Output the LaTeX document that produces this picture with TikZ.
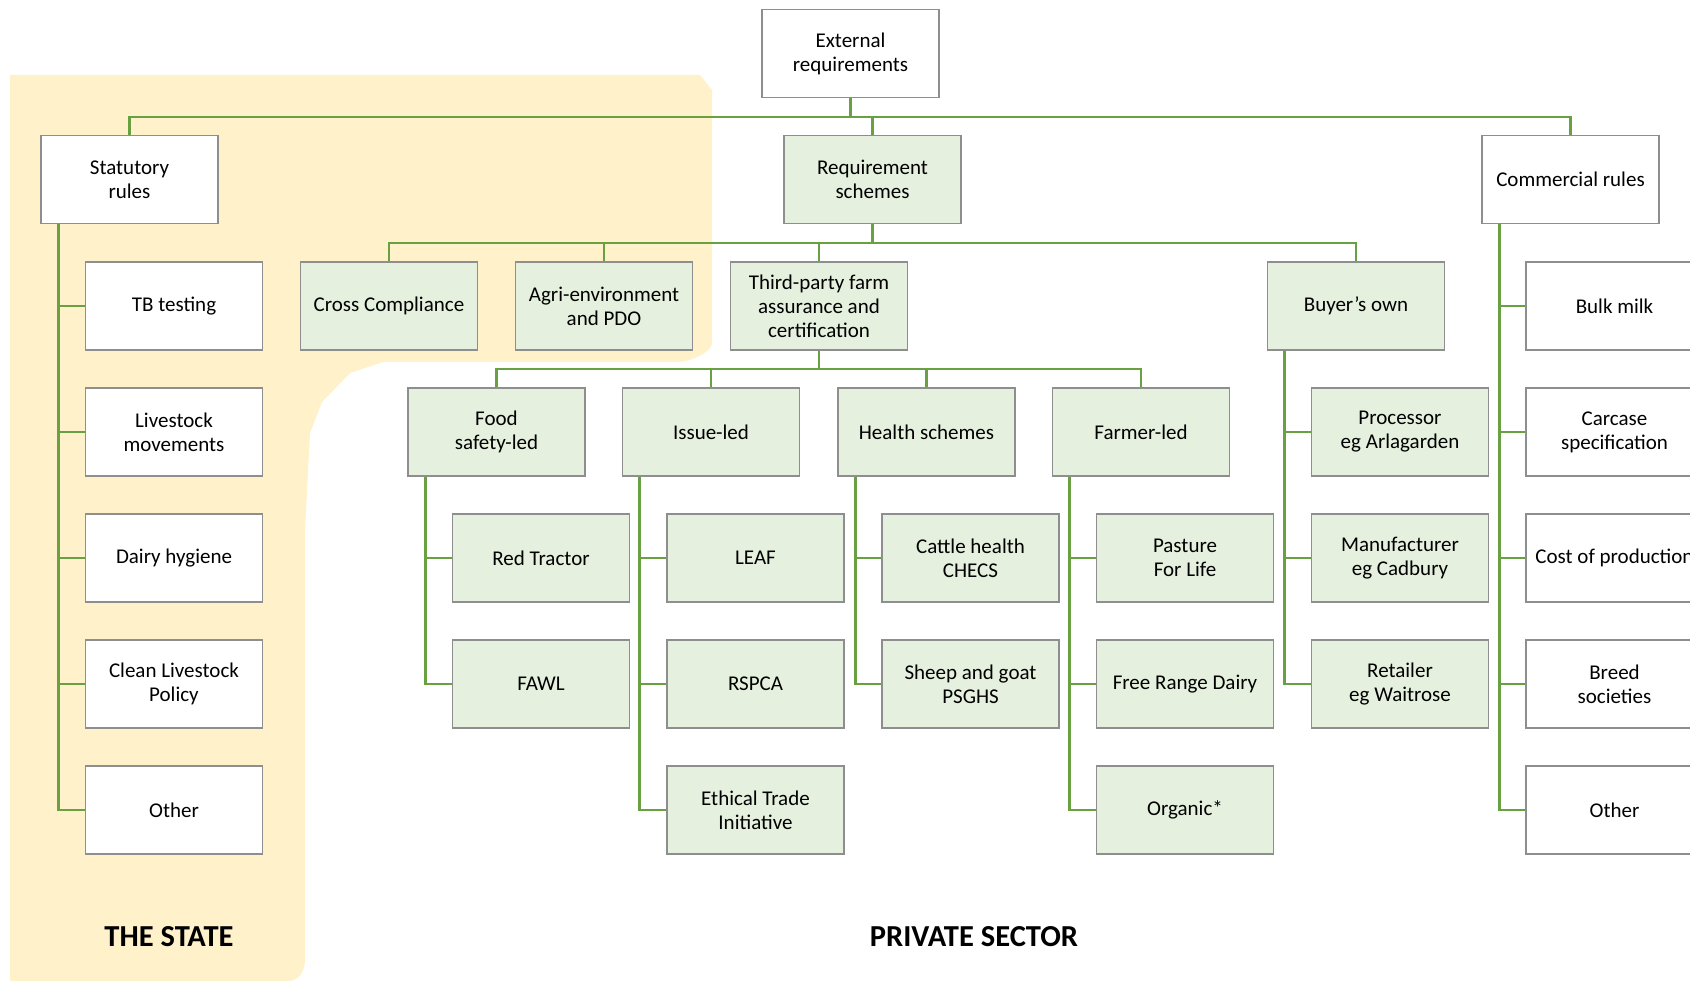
\documentclass[tikz,border=0pt]{standalone}
\usepackage{fontspec}
\setmainfont{Carlito}
\definecolor{stateband}{HTML}{FFF1CA}
\definecolor{schemefill}{HTML}{E5F0DE}
\definecolor{linkgreen}{HTML}{69A142}
\definecolor{boxgray}{HTML}{8E8E8E}
\newcommand{\apos}{\char"0027}
\tikzset{
  box/.style={draw=boxgray, line width=1.6pt, fill=white, minimum width=177pt,
    minimum height=88pt, inner sep=2pt, align=center,
    font=\fontsize{21}{24}\selectfont},
  scheme/.style={box, fill=schemefill},
  conn/.style={draw=linkgreen, line width=2.9pt},
  sector/.style={font=\fontsize{30.5}{35}\selectfont\bfseries}
}
\begin{document}
\begin{tikzpicture}[x=1pt,y=-1pt]
\useasboundingbox (0,0) rectangle (1690,981);
\clip (0,0) rectangle (1690,981);
\fill[white] (0,0) rectangle (1690,981);

% band behind the state-run part
\fill[stateband] (10,75) -- (700,75) -- (712,90) -- (712,343)
  .. controls (712,352) and (690,362) .. (677,362) -- (383,362)
  -- (350,373) -- (322,402) -- (310,433) -- (305,530) -- (305,960)
  .. controls (305,972) and (298,981) .. (288,981) -- (10,981) -- cycle;

% top level
\node[box] (ext) at (850.5,53.5) {External\\requirements};
\node[box] (stat) at (129.5,179.5) {Statutory\\rules};
\node[scheme] (req) at (872.5,179.5) {Requirement\\schemes};
\node[box] (comm) at (1570.5,179.5) {Commercial rules};

% requirement schemes
\node[scheme] (cc) at (389,306) {Cross Compliance};
\node[scheme] (agri) at (604,306) {Agri-environment\\and PDO};
\node[scheme] (tp) at (819,306) {Third-party farm\\assurance and\\certification};
\node[scheme] (buy) at (1356,306) {Buyer\apos s own};

% third-party groups
\node[scheme] (food) at (496.5,432) {Food\\safety-led};
\node[scheme] (issue) at (711,432) {Issue-led};
\node[scheme] (health) at (926.5,432) {Health schemes};
\node[scheme] (farm) at (1141,432) {Farmer-led};

% statutory rules
\node[box] (s1) at (174,306) {TB testing};
\node[box] (s2) at (174,432) {Livestock\\movements};
\node[box] (s3) at (174,558) {Dairy hygiene};
\node[box] (s4) at (174,684) {Clean Livestock\\Policy};
\node[box] (s5) at (174,810) {Other};

% food safety-led
\node[scheme] (f1) at (541,558) {Red Tractor};
\node[scheme] (f2) at (541,684) {FAWL};

% issue-led
\node[scheme] (i1) at (755.5,558) {LEAF};
\node[scheme] (i2) at (755.5,684) {RSPCA};
\node[scheme] (i3) at (755.5,810) {Ethical Trade\\Initiative};

% health schemes
\node[scheme] (h1) at (970.5,558) {Cattle health\\CHECS};
\node[scheme] (h2) at (970.5,684) {Sheep and goat\\PSGHS};

% farmer-led
\node[scheme] (m1) at (1185,558) {Pasture\\For Life};
\node[scheme] (m2) at (1185,684) {Free Range Dairy};
\node[scheme] (m3) at (1185,810) {Organic*};

% buyer's own
\node[scheme] (b1) at (1400,432) {Processor\\eg Arlagarden};
\node[scheme] (b2) at (1400,558) {Manufacturer\\eg Cadbury};
\node[scheme] (b3) at (1400,684) {Retailer\\eg Waitrose};

% commercial rules
\node[box] (c1) at (1614.5,306) {Bulk milk};
\node[box] (c2) at (1614.5,432) {Carcase\\specification};
\node[box] (c3) at (1614.5,558) {Cost of production};
\node[box] (c4) at (1614.5,684) {Breed\\societies};
\node[box] (c5) at (1614.5,810) {Other};

% buses
\coordinate (bus1) at (850.5,117);
\coordinate (bus2) at (872.5,243);
\coordinate (bus3) at (819,369);
\draw[conn] (ext.south) -- (bus1);
\draw[conn] (stat.north) |- (bus1) -| (comm.north);
\draw[conn] (req.north) -- (req.north |- bus1);

\draw[conn] (req.south) -- (bus2);
\draw[conn] (cc.north) |- (bus2) -| (buy.north);
\draw[conn] (agri.north) -- (agri.north |- bus2);
\draw[conn] (tp.north) -- (tp.north |- bus2);

\draw[conn] (tp.south) -- (bus3);
\draw[conn] (food.north) |- (bus3) -| (farm.north);
\draw[conn] (issue.north) -- (issue.north |- bus3);
\draw[conn] (health.north) -- (health.north |- bus3);

% trunks with side branches
\foreach \p/\last/\others in {stat/s5/{s1,s2,s3,s4}, food/f2/{f1}, issue/i3/{i1,i2},
    health/h2/{h1}, farm/m3/{m1,m2}, buy/b3/{b1,b2}, comm/c5/{c1,c2,c3,c4}} {
  \coordinate (t) at ([xshift=18pt]\p.south west);
  \draw[conn] (t) |- (\last.west);
  \foreach \c in \others { \draw[conn] (\c.west) -- (\c.west -| t); }
}

% sector labels
\node[sector] (state) at (169,937) {THE STATE};
\node[sector] (private) at (974,937) {PRIVATE SECTOR};
\end{tikzpicture}
\end{document}
